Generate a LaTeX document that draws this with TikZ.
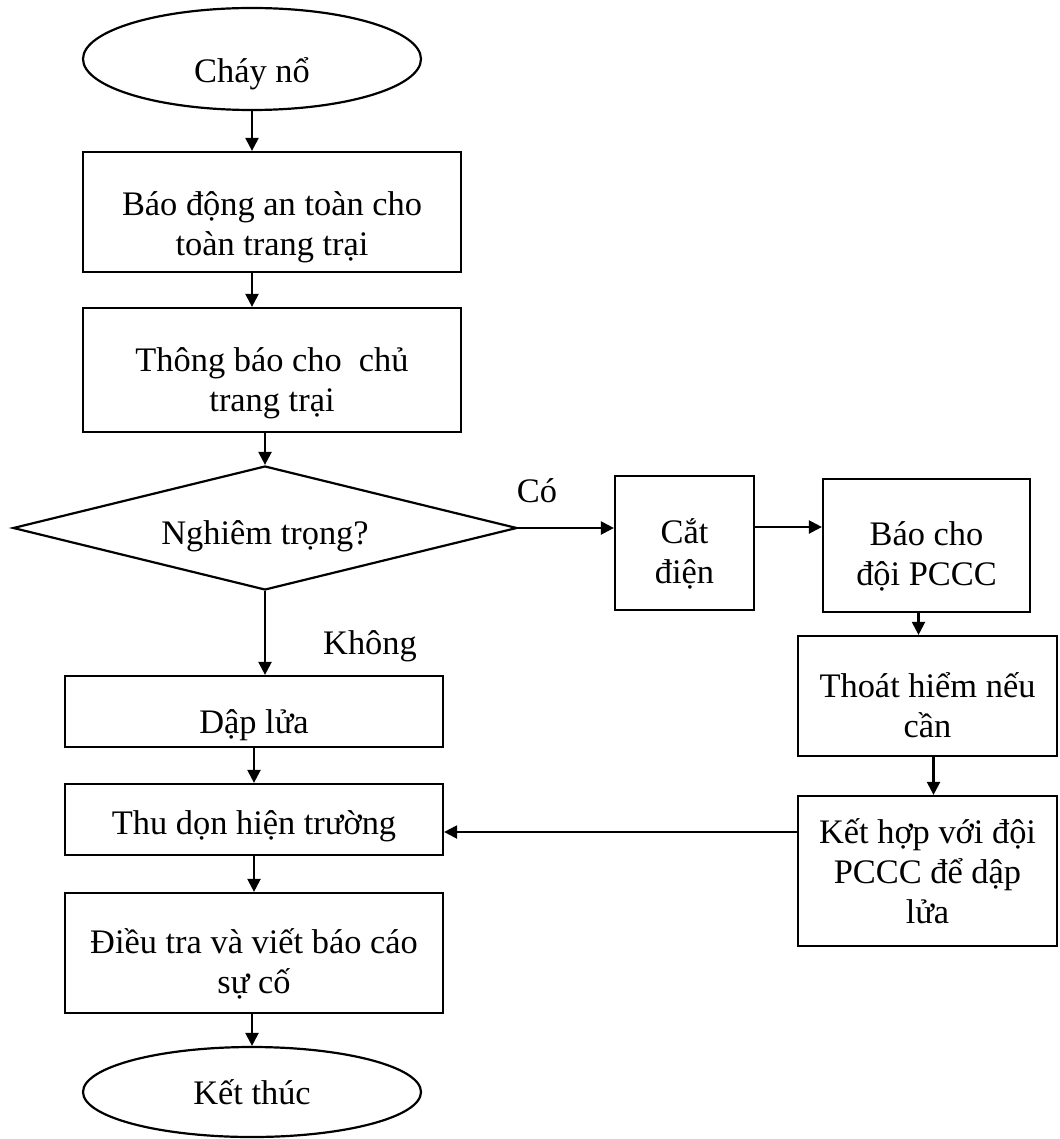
\documentclass[tikz,border=0pt]{standalone}
\usepackage{fontspec}
\setmainfont{Liberation Serif}
\usepackage{tikz}
\usetikzlibrary{calc,arrows.meta,shapes.geometric}
\newcommand{\lowstrut}[1]{\rule{0pt}{#1}}

\begin{document}
\begin{tikzpicture}[x=0.5pt,y=-0.5pt,
  every node/.style={font=\fontsize{17.2pt}{20pt}\selectfont},
  box/.style={draw, line width=1.1pt, rectangle, inner sep=2pt, align=center},
  term/.style={draw, line width=1.1pt, ellipse, inner sep=0pt, minimum width=169pt},
  arr/.style={line width=1.1pt, -{Triangle[length=6.5pt,width=6.5pt]}}]
\useasboundingbox (0,0) rectangle (1059,1139);
\node[term, minimum height=51pt, text height=27pt] (start) at (252,59) {Cháy nổ};
\node[box, minimum width=189pt, minimum height=60pt] (b1) at (272,212) {\lowstrut{27pt}Báo động an toàn cho\\toàn trang trại};
\node[box, minimum width=189pt, minimum height=62pt] (b2) at (272,370) {\lowstrut{25pt}Thông báo cho~~chủ\\trang trại};
\node[draw, diamond, aspect=4, line width=1.1pt, inner sep=0pt, minimum width=252pt, minimum height=62pt, text height=20pt] (dia) at (265,528) {Nghiêm trọng?};
\node[box, minimum width=69.5pt, minimum height=67pt] (cat) at (684.5,543) {\lowstrut{23pt}Cắt\\điện};
\node[box, minimum width=103.5pt, minimum height=66.5pt] (bao) at (926.5,545.5) {\lowstrut{23pt}Báo cho\\đội PCCC};
\node[box, minimum width=129.5pt, minimum height=60pt] (thoat) at (927.5,696) {\lowstrut{22pt}Thoát hiểm nếu\\cần};
\node[box, minimum width=129.5pt, minimum height=75pt] (ket) at (927.5,871) {Kết hợp với đội\\PCCC để dập\\lửa};
\node[box, minimum width=189pt, minimum height=35.5pt, text height=26pt] (dap) at (254,711.5) {Dập lửa};
\node[box, minimum width=189pt, minimum height=35.5pt, text height=19pt] (thu) at (254,819.5) {Thu dọn hiện trường};
\node[box, minimum width=189pt, minimum height=60pt] (dieu) at (254,953) {\lowstrut{23pt}Điều tra và viết báo cáo\\sự cố};
\node[term, minimum height=45pt] (endn) at (252,1092) {Kết thúc};
\node (co) at (537,491) {Có};
\node (khong) at (370,646) {Không};
\draw[arr] (start.south) -- (start.south |- b1.north);
\draw[arr] (b1.south -| start.south) -- (b2.north -| start.south);
\draw[arr] (b2.south -| dia.north) -- (dia.north);
\draw[arr] (dia.east) -- (dia.east -| cat.west);
\coordinate (c1) at ($(cat.east)+(0,-16)$);
\draw[arr] (c1) -- (c1 -| bao.west);
\coordinate (c2) at ($(bao.south)+(-8,0)$);
\draw[arr] (c2) -- (c2 |- thoat.north);
\coordinate (c3) at ($(thoat.south)+(6,0)$);
\draw[arr] (c3) -- (c3 |- ket.north);
\coordinate (c4) at ($(ket.west)+(0,-39)$);
\draw[arr] (c4) -- (c4 -| thu.east);
\draw[arr] (dia.south) -- (dia.south |- dap.north);
\draw[arr] (dap.south) -- (thu.north);
\draw[arr] (thu.south) -- (dieu.north);
\draw[arr] (dieu.south -| endn.north) -- (endn.north);
\end{tikzpicture}
\end{document}
